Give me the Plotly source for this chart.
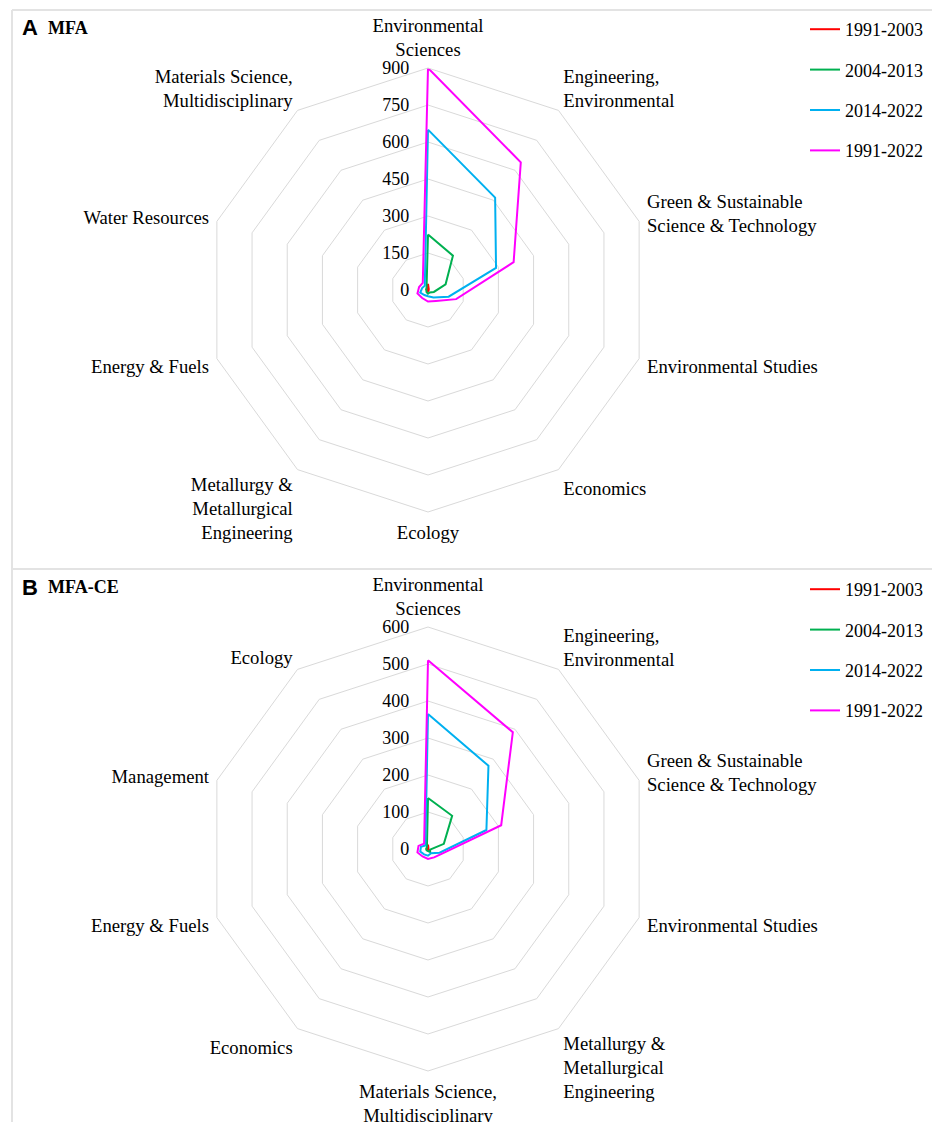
import plotly.graph_objects as go

series_names = ["1991-2003", "2004-2013", "2014-2022", "1991-2022"]
series_colors = ["#FF0000", "#00B050", "#00B0F0", "#FF00FF"]

# Panel A: MFA
cats_a = ["Environmental<br>Sciences", "Engineering,<br>Environmental",
          "Green & Sustainable<br>Science & Technology", "Environmental Studies",
          "Economics", "Ecology", "Metallurgy &<br>Metallurgical<br>Engineering",
          "Energy & Fuels", "Water Resources", "Materials Science,<br>Multidisciplinary"]
a_1991_2003 = [25, 5, 2, 5, 3, 5, 3, 3, 5, 3]
a_2004_2013 = [225, 172, 75, 25, 12, 15, 10, 7, 8, 10]
a_2014_2022 = [650, 463, 290, 88, 38, 25, 25, 33, 25, 22]
a_1991_2022 = [900, 640, 365, 120, 55, 47, 40, 45, 38, 36]
a_ticks = [0, 150, 300, 450, 600, 750, 900]

# Panel B: MFA-CE
cats_b = ["Environmental<br>Sciences", "Engineering,<br>Environmental",
          "Green & Sustainable<br>Science & Technology", "Environmental Studies",
          "Metallurgy &<br>Metallurgical<br>Engineering", "Materials Science,<br>Multidisciplinary",
          "Economics", "Energy & Fuels", "Management", "Ecology"]
b_1991_2003 = [12, 2, 1, 1, 4, 3, 2, 2, 2, 1]
b_2004_2013 = [138, 111, 45, 6, 10, 6, 5, 5, 5, 5]
b_2014_2022 = [365, 278, 166, 33, 14, 18, 18, 22, 20, 12]
b_1991_2022 = [510, 390, 208, 40, 28, 27, 25, 30, 27, 18]
b_ticks = [0, 100, 200, 300, 400, 500, 600]

SERIF = "Liberation Serif, Times New Roman, serif"
GRID = "#d9d9d9"

fig = go.Figure()

def add_panel(cats, data, subplot, legend):
    for name, color, vals in zip(series_names, series_colors, data):
        fig.add_trace(go.Scatterpolar(
            r=vals + vals[:1], theta=cats + cats[:1], mode="lines",
            name=name, line=dict(color=color, width=2),
            subplot=subplot, legend=legend, legendgroup=legend + name,
        ))

add_panel(cats_a, [a_1991_2003, a_2004_2013, a_2014_2022, a_1991_2022], "polar", "legend")
add_panel(cats_b, [b_1991_2003, b_2004_2013, b_2014_2022, b_1991_2022], "polar2", "legend2")

W, H = 932, 1122
R = 222

def px(x):
    return x / W

def py(y):
    return 1 - y / H

def polar_cfg(cx, cy, ticks):
    return dict(
        domain=dict(x=[px(cx - R), px(cx + R)], y=[py(cy + R), py(cy - R)]),
        gridshape="linear",
        bgcolor="white",
        angularaxis=dict(direction="clockwise", rotation=90, showgrid=False,
                         showline=True, linecolor=GRID, linewidth=1,
                         ticks="outside", ticklen=4, tickcolor="rgba(0,0,0,0)",
                         tickfont=dict(family=SERIF, size=18.7, color="#000")),
        radialaxis=dict(range=[ticks[0], ticks[-1]], tickvals=ticks, angle=90, tickangle=90,
                        showline=False, showgrid=True, gridcolor=GRID, gridwidth=1,
                        ticks="outside", ticklen=12, tickcolor="rgba(0,0,0,0)",
                        side="counterclockwise",
                        tickfont=dict(family=SERIF, size=18, color="#000")),
    )

legend_common = dict(font=dict(family=SERIF, size=18, color="#000"), bgcolor="rgba(0,0,0,0)",
                     tracegroupgap=14, itemwidth=30, xanchor="left", yanchor="top")

fig.update_layout(
    width=W, height=H, margin=dict(l=0, r=0, t=0, b=0, autoexpand=False),
    paper_bgcolor="white", plot_bgcolor="white",
    polar=polar_cfg(428, 290, a_ticks),
    polar2=polar_cfg(428, 849, b_ticks),
    legend=dict(x=px(805), y=py(11), **legend_common),
    legend2=dict(x=px(805), y=py(571), **legend_common),
    showlegend=True,
)

# panel frame lines
for x0, x1, y0, y1 in [(12, 932, 10, 10), (12, 932, 569, 569), (12, 12, 10, 1122)]:
    fig.add_shape(type="line", xref="paper", yref="paper",
                  x0=px(x0), x1=px(x1), y0=py(y0), y1=py(y1),
                  line=dict(color="#e3e3e3", width=2))

for letter, title, ymid in [("A", "MFA", 28), ("B", "MFA-CE", 587)]:
    fig.add_annotation(text="<b>" + letter + "</b>", x=px(20), y=py(ymid), xref="paper", yref="paper",
                       xanchor="left", yanchor="middle", showarrow=False,
                       font=dict(family="Liberation Sans, Arial, sans-serif", size=22, color="#000"))
    fig.add_annotation(text="<b>" + title + "</b>", x=px(46), y=py(ymid), xref="paper", yref="paper",
                       xanchor="left", yanchor="middle", showarrow=False,
                       font=dict(family=SERIF, size=18, color="#000"))

# remove the default 8px page margin so the figure sits at the window's top-left corner
fig.write_html("out.html", config={"displayModeBar": False},
               post_script="document.body.style.margin='0px';")
